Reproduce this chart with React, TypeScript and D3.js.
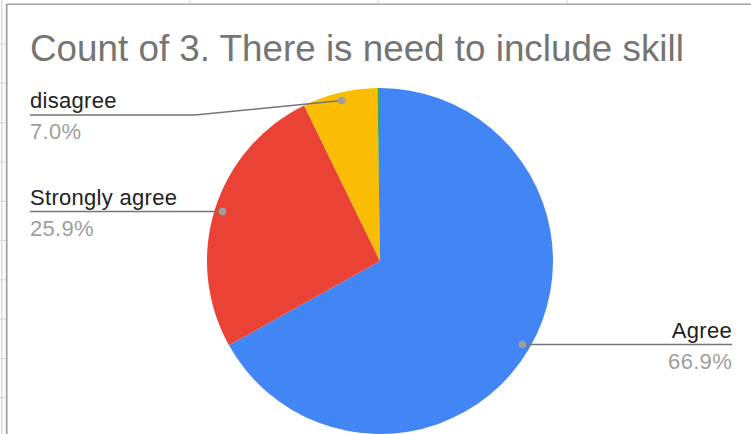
import React from "react";
import * as d3 from "d3";

const categories = ["Agree", "Strongly agree", "disagree", "Strongly disagree"];
const counts = [287, 111, 30, 1];
const colors = ["#4285f4", "#ea4335", "#fbbc04", "#34a853"];
const title = "Count of 3. There is need to include skill";

const W = 751;
const H = 434;
const FONT = "'Liberation Sans', Arial, sans-serif";

export default function App() {
  const cx = 380;
  const cy = 261;
  const r = 173;
  const total = d3.sum(counts);
  const pie = d3
    .pie<number>()
    .sort(null)
    .value((d) => d)
    .startAngle(0)
    .endAngle(2 * Math.PI);
  const arcs = pie(counts);
  const arc = d3.arc<d3.PieArcDatum<number>>().innerRadius(0).outerRadius(r);
  const dotArc = d3.arc<d3.PieArcDatum<number>>().innerRadius(165).outerRadius(165);

  const rowYs = d3.range(44, H, 39.3);
  const colXs = [190, 378, 567];

  const labels = arcs
    .map((a, i) => {
      if (a.value / total < 0.01) return null;
      const [dx, dy] = dotArc.centroid(a);
      const px = cx + dx;
      const py = cy + dy;
      const mid = (a.startAngle + a.endAngle) / 2;
      const left = mid > Math.PI;
      const lineY = Math.max(py, 115);
      const pct = ((a.value / total) * 100).toFixed(1) + "%";
      return { i, px, py, left, lineY, pct };
    })
    .filter(Boolean) as any[];

  return (
    <svg
      width={W}
      height={H}
      style={{ position: "fixed", left: 0, top: 0, background: "#fff" }}
    >
      <rect x={0} y={0} width={W} height={H} fill="#fff" />
      {/* spreadsheet grid around chart */}
      <line x1={1.8} y1={0} x2={1.8} y2={H} stroke="#dadada" strokeWidth={1.5} />
      {rowYs.map((y, k) => (
        <line key={"r" + k} x1={0} y1={y} x2={6} y2={y} stroke="#dadada" strokeWidth={1.2} />
      ))}
      {colXs.map((x, k) => (
        <line key={"c" + k} x1={x} y1={0} x2={x} y2={4} stroke="#dadada" strokeWidth={1.2} />
      ))}
      <line x1={6} y1={4.2} x2={W} y2={4.2} stroke="#a3a3a3" strokeWidth={1.6} />
      <line x1={6.7} y1={4} x2={6.7} y2={H} stroke="#a3a3a3" strokeWidth={1.8} />

      <text x={30} y={61} fontFamily={FONT} fontSize={36.8} fill="#757575">
        {title}
      </text>

      <g transform={`translate(${cx},${cy})`}>
        {arcs.map((a, i) => (
          <path key={i} d={arc(a) || ""} fill={colors[i]} />
        ))}
      </g>

      {labels.map((l) => {
        const x0 = l.left ? 30 : 732;
        const bendX = l.left ? Math.min(195, l.px) : l.px;
        const pts = l.left
          ? `${x0},${l.lineY} ${bendX},${l.lineY} ${l.px},${l.py}`
          : `${l.px},${l.py} ${x0},${l.lineY}`;
        return (
          <g key={l.i}>
            <polyline points={pts} fill="none" stroke="#757575" strokeWidth={1.5} />
            <circle cx={l.px} cy={l.py} r={3.8} fill="#9e9e9e" />
            <text
              x={x0}
              y={l.lineY - 7}
              fontFamily={FONT}
              fontSize={22}
              letterSpacing={0.3}
              fill="#222"
              textAnchor={l.left ? "start" : "end"}
            >
              {categories[l.i]}
            </text>
            <text
              x={x0}
              y={l.lineY + 24}
              fontFamily={FONT}
              fontSize={22}
              letterSpacing={0.3}
              fill="#9e9e9e"
              textAnchor={l.left ? "start" : "end"}
            >
              {l.pct}
            </text>
          </g>
        );
      })}
    </svg>
  );
}
